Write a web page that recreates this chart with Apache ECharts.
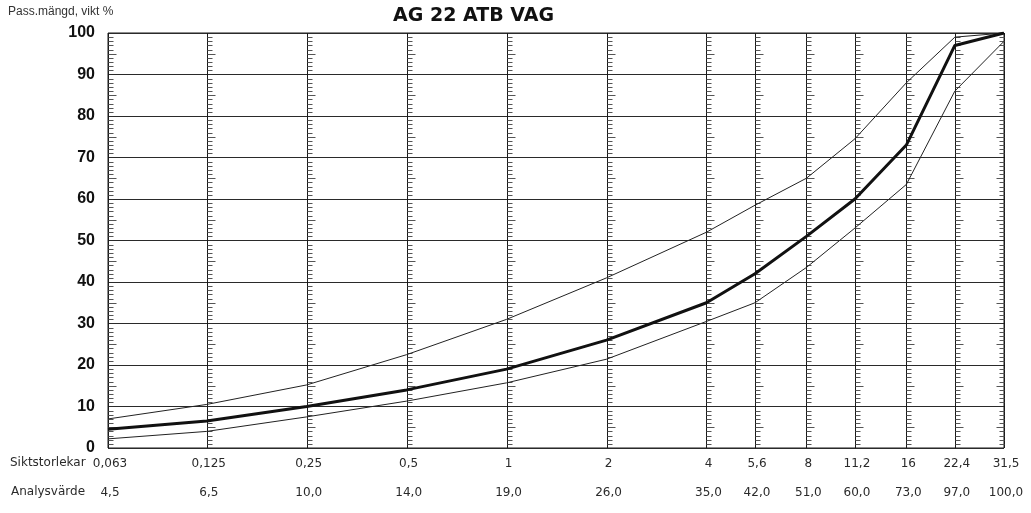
<!DOCTYPE html>
<html>
<head>
<meta charset="utf-8">
<title>AG 22 ATB VAG</title>
<script src="https://cdn.jsdelivr.net/npm/echarts@6/dist/echarts.min.js"></script>
<style>
  html, body { margin: 0; padding: 0; background: #fff; }
  #chart { width: 1031px; height: 513px; }
</style>
</head>
<body>
<div id="chart"></div>
<script>
// Sieve sizes (mm) on a logarithmic axis
const sieveSizes = [0.063, 0.125, 0.25, 0.5, 1, 2, 4, 5.6, 8, 11.2, 16, 22.4, 31.5];
const sieveLabels = ['0,063', '0,125', '0,25', '0,5', '1', '2', '4', '5,6', '8', '11,2', '16', '22,4', '31,5'];
// Passing percentage by weight: analysis result and grading envelope
const analysisValues = [4.5, 6.5, 10.0, 14.0, 19.0, 26.0, 35.0, 42.0, 51.0, 60.0, 73.0, 97.0, 100.0];
const upperLimit = [7, 10.5, 15.2, 22.5, 31, 41, 52, 58.5, 65, 74.5, 88, 99, 100];
const lowerLimit = [2.2, 4, 7.5, 11.3, 15.7, 21.4, 30.5, 35, 43.5, 53, 63.5, 86, 98];

const fmt = v => v.toFixed(1).replace('.', ',');
const pairs = vals => sieveSizes.map((s, i) => [s, vals[i]]);

const chart = echarts.init(document.getElementById('chart'), null, { renderer: 'canvas' });

// Vertical sieve lines with a 1 % ruler scale beside each
function renderSieveLine(params, api) {
  const x = api.value(0);
  const top = api.coord([x, 100]);
  const bot = api.coord([x, 0]);
  const px = Math.round(top[0]) + 0.5;
  const children = [{
    type: 'line',
    shape: { x1: px, y1: top[1], x2: px, y2: bot[1] },
    style: { stroke: '#1a1a1a', lineWidth: 1 }
  }];
  const dir = params.dataIndex === sieveSizes.length - 1 ? -1 : 1;
  for (let v = 1; v < 100; v++) {
    if (v % 10 === 0) continue;
    const p = api.coord([x, v]);
    const py = Math.round(p[1]) + 0.5;
    const len = v % 5 === 0 ? 8 : 5;
    children.push({
      type: 'line',
      shape: { x1: px, y1: py, x2: px + dir * len, y2: py },
      style: { stroke: '#555', lineWidth: 1 }
    });
  }
  return { type: 'group', children };
}

// Two rows of text under the plot: sieve size and analysis value
function renderRowLabels(params, api) {
  const i = params.dataIndex;
  const p = api.coord([api.value(0), 0]);
  const mk = (text, dy) => ({
    type: 'text',
    x: p[0] + 2,
    y: p[1] + dy,
    style: {
      text,
      align: 'center',
      verticalAlign: 'middle',
      font: '12px "DejaVu Sans"',
      fill: '#2a2a2a'
    }
  });
  return {
    type: 'group',
    children: [mk(sieveLabels[i], 16), mk(fmt(analysisValues[i]), 45)]
  };
}

chart.setOption({
  backgroundColor: '#fff',
  animation: false,
  title: {
    text: 'AG 22 ATB VAG',
    left: 388,
    top: 2,
    textStyle: { fontFamily: 'DejaVu Sans', fontWeight: 'bold', fontSize: 19, color: '#111' }
  },
  grid: {
    left: 108, right: 27, top: 33, bottom: 65,
    show: true, borderColor: '#1a1a1a', borderWidth: 1, backgroundColor: 'transparent'
  },
  graphic: [
    { type: 'text', left: 8, top: 6, style: { text: 'Pass.mängd, vikt %', font: '12px "Liberation Sans"', fill: '#333' } },
    { type: 'text', left: 10, top: 457, style: { text: 'Siktstorlekar', font: '12px "DejaVu Sans"', fill: '#2a2a2a' } },
    { type: 'text', left: 11, top: 486, style: { text: 'Analysvärde', font: '12px "DejaVu Sans"', fill: '#2a2a2a' } }
  ],
  xAxis: {
    type: 'log',
    logBase: 2,
    min: 0.063,
    max: 31.5,
    axisLine: { show: false },
    axisTick: { show: false },
    axisLabel: { show: false },
    splitLine: { show: false },
    minorTick: { show: false }
  },
  yAxis: {
    type: 'value',
    min: 0,
    max: 100,
    interval: 10,
    axisLine: { show: false },
    axisTick: { show: false },
    axisLabel: {
      margin: 13,
      fontFamily: 'Liberation Sans',
      fontWeight: 'bold',
      fontSize: 16,
      color: '#111'
    },
    splitLine: { lineStyle: { color: '#2a2a2a', width: 1 } }
  },
  series: [
    {
      type: 'custom',
      name: 'sieves',
      data: sieveSizes.map(s => [s]),
      renderItem: renderSieveLine,
      silent: true,
      clip: false,
      z: 1
    },
    {
      type: 'line',
      name: 'upper',
      data: pairs(upperLimit),
      symbol: 'none',
      lineStyle: { color: '#222', width: 1 },
      z: 3
    },
    {
      type: 'line',
      name: 'lower',
      data: pairs(lowerLimit),
      symbol: 'none',
      lineStyle: { color: '#222', width: 1 },
      z: 3
    },
    {
      type: 'line',
      name: 'analys',
      data: pairs(analysisValues),
      symbol: 'none',
      lineStyle: { color: '#111', width: 3 },
      z: 4
    },
    {
      type: 'custom',
      name: 'rows',
      data: sieveSizes.map(s => [s]),
      renderItem: renderRowLabels,
      silent: true,
      clip: false,
      z: 5
    }
  ]
});
</script>
</body>
</html>
